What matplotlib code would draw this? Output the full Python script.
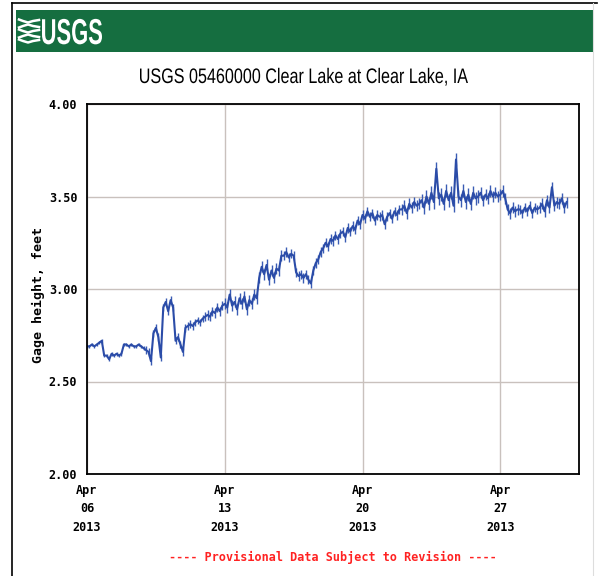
import numpy as np
import pandas as pd
import matplotlib
matplotlib.use("Agg")
import matplotlib.pyplot as plt
from matplotlib.font_manager import FontProperties
from matplotlib.lines import Line2D
from matplotlib.patches import Rectangle, PathPatch
from matplotlib.textpath import TextPath
from matplotlib.transforms import Affine2D

# gage height, feet, one reading every 3 hours starting 2013-04-06 00:00
gage_by_day = [
    [2.69, 2.69, 2.70, 2.69, 2.70, 2.71, 2.72, 2.64],  # Apr 6
    [2.64, 2.62, 2.65, 2.64, 2.65, 2.64, 2.65, 2.70],
    [2.70, 2.69, 2.70, 2.69, 2.69, 2.70, 2.69, 2.68],
    [2.67, 2.66, 2.61, 2.76, 2.79, 2.74, 2.63, 2.90],
    [2.93, 2.88, 2.94, 2.90, 2.72, 2.74, 2.70, 2.66],
    [2.79, 2.80, 2.81, 2.80, 2.82, 2.83, 2.82, 2.84],
    [2.85, 2.86, 2.85, 2.88, 2.87, 2.90, 2.88, 2.91],
    [2.92, 2.90, 2.97, 2.91, 2.93, 2.89, 2.95, 2.92],  # Apr 13
    [2.96, 2.89, 2.94, 2.92, 2.97, 2.95, 3.06, 3.12],
    [3.08, 3.13, 3.05, 3.10, 3.06, 3.11, 3.10, 3.18],
    [3.18, 3.20, 3.17, 3.19, 3.18, 3.09, 3.07, 3.08],
    [3.06, 3.08, 3.05, 3.03, 3.10, 3.14, 3.16, 3.20],
    [3.22, 3.25, 3.23, 3.27, 3.26, 3.29, 3.27, 3.30],
    [3.31, 3.28, 3.33, 3.31, 3.34, 3.32, 3.37, 3.35],
    [3.40, 3.38, 3.42, 3.39, 3.41, 3.37, 3.40, 3.39],  # Apr 20
    [3.40, 3.35, 3.39, 3.41, 3.38, 3.42, 3.40, 3.43],
    [3.43, 3.45, 3.41, 3.46, 3.44, 3.47, 3.45, 3.46],
    [3.48, 3.44, 3.50, 3.46, 3.52, 3.47, 3.65, 3.49],
    [3.51, 3.46, 3.53, 3.48, 3.52, 3.45, 3.70, 3.50],
    [3.48, 3.53, 3.47, 3.51, 3.46, 3.52, 3.49, 3.50],
    [3.52, 3.48, 3.51, 3.49, 3.53, 3.50, 3.52, 3.50],
    [3.51, 3.53, 3.49, 3.43, 3.41, 3.44, 3.42, 3.43],  # Apr 27
    [3.43, 3.41, 3.44, 3.42, 3.45, 3.41, 3.44, 3.43],
    [3.44, 3.46, 3.42, 3.48, 3.44, 3.55, 3.45, 3.47],
    [3.46, 3.49, 3.44, 3.47],
]
# rough half-width of the 15-minute scatter around each day's readings, feet
day_spread = [0.010, 0.010, 0.010, 0.020, 0.020, 0.020, 0.025, 0.030,
              0.030, 0.030, 0.025, 0.025, 0.025, 0.025, 0.025, 0.025,
              0.030, 0.035, 0.035, 0.035, 0.030, 0.030, 0.025, 0.030, 0.030]

gage = [v for day in gage_by_day for v in day]
spread = [s for day, s in zip(gage_by_day, day_spread) for _ in day]
times = pd.date_range("2013-04-06", periods=len(gage), freq="3h")

ytick_vals = [2.00, 2.50, 3.00, 3.50, 4.00]
xtick_dates = ["2013-04-06", "2013-04-13", "2013-04-20", "2013-04-27"]
title = "USGS 05460000 Clear Lake at Clear Lake, IA"
note = "---- Provisional Data Subject to Revision ----"
mono = "DejaVu Sans Mono"

W, H = 600, 576
fig = plt.figure(figsize=(6.0, 5.76), dpi=100)
px = Affine2D().scale(1 / W, 1 / H) + fig.transFigure  # pixel coords, origin bottom-left


def fx(x):
    return x / W


def fy(y):
    return 1 - y / H


def narrow_text(text, x0, x1, baseline, size, weight, color):
    # condensed text: draw the glyph outlines squeezed to a given pixel width
    tp = TextPath((0, 0), text, size=size,
                  prop=FontProperties(family="Liberation Sans", weight=weight))
    bb = tp.get_extents()
    tr = Affine2D().translate(-bb.x0, 0).scale((x1 - x0) / bb.width, 1) \
        .translate(x0, H - baseline) + px
    fig.add_artist(PathPatch(tp, transform=tr, color=color, lw=0))


# page frame
fig.add_artist(Line2D([fx(12), fx(12)], [0, fy(3)], color="black", lw=1.2))
fig.add_artist(Line2D([fx(12), fx(597)], [fy(3), fy(3)], color="black", lw=1.2))
fig.add_artist(Line2D([fx(593), fx(593)], [0, fy(3)], color="#dddddd", lw=0.8))

# green banner with logo
fig.add_artist(Rectangle((fx(16), fy(52)), fx(578), 42 / H, color="#156e40", lw=0))
for k in range(5):
    y0 = 21 + k * 5
    xs = np.array([19, 23, 28, 33, 39])
    ys = y0 + np.array([-1.5, 0, 1.5, 0, -1.0]) * (1 if k % 2 == 0 else -1)
    fig.add_artist(Line2D(fx(xs), fy(ys), color="white", lw=1.8))
narrow_text("USGS", 42, 102, 44, 36, "bold", "white")

narrow_text(title, 140, 468, 83, 21, "normal", "black")

ax = fig.add_axes([fx(87), fy(474), (579 - 87) / W, (474 - 104) / H])
g = np.array(gage)
s = np.array(spread)
ax.vlines(times, g - s, g + s, color="#3a5cb4", lw=1.0)
ax.plot(times, gage, color="#2b4ca8", lw=1.5)

ax.set_xlim(pd.Timestamp("2013-04-06"), pd.Timestamp("2013-05-01"))
ax.set_ylim(2.0, 4.0)
ax.set_yticks(ytick_vals)
ax.set_yticklabels([f"{v:.2f}" for v in ytick_vals], family=mono,
                   fontweight="bold", fontsize=8.5)
xt = [pd.Timestamp(d) for d in xtick_dates]
ax.set_xticks(xt)
ax.set_xticklabels([d.strftime("%b\n%d\n%Y") for d in xt], family=mono,
                   fontweight="bold", fontsize=8.5, linespacing=1.55)
ax.tick_params(length=0, pad=7)
ax.grid(True, color="#c9c1bd", lw=1.0)
ax.set_axisbelow(True)
for sp in ax.spines.values():
    sp.set_linewidth(1.3)
    sp.set_color("black")

fig.text(fx(38), fy(295), "Gage height, feet", rotation=90, family=mono,
         fontweight="bold", fontsize=9.5, ha="center", va="center")
fig.text(fx(333), fy(557), note, color="#ff2222", family=mono, fontsize=8.5,
         fontweight="bold", ha="center", va="center")

fig.savefig("out.png", dpi=100)
